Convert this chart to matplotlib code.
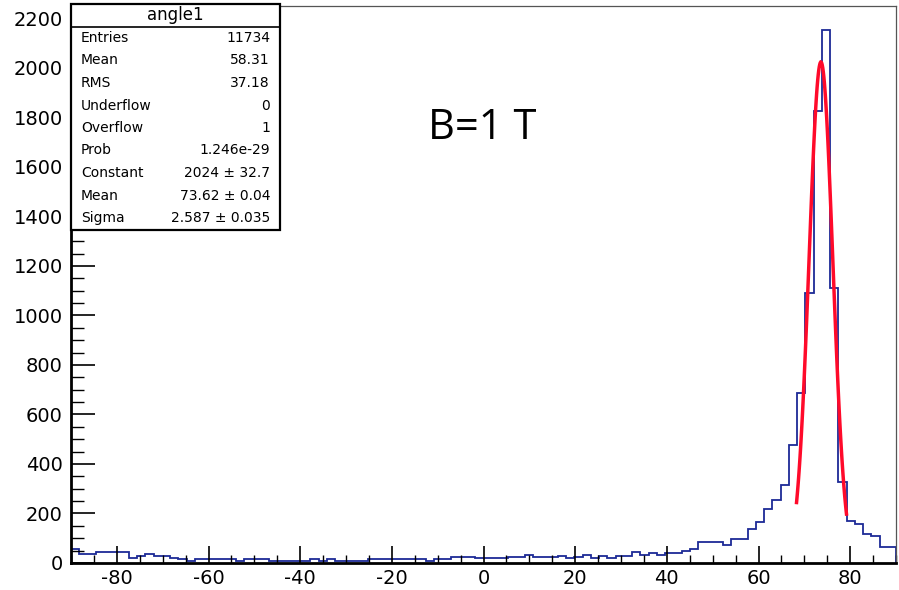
import numpy as np
import matplotlib
matplotlib.use("Agg")
import matplotlib.pyplot as plt
from matplotlib.ticker import MultipleLocator

# histogram "angle1": 100 bins from -90 to 90 deg
x_lo, x_hi, n_bins = -90.0, 90.0, 100
counts = [
    55, 35, 38, 45, 46, 46, 44, 22, 27, 36,
    29, 27, 22, 17, 9, 16, 16, 16, 16, 16,
    9, 16, 16, 16, 9, 9, 9, 9, 9, 16,
    9, 16, 9, 9, 9, 9, 16, 16, 16, 16,
    16, 16, 16, 10, 17, 17, 25, 25, 25, 20,
    20, 20, 20, 23, 23, 31, 24, 24, 24, 30,
    20, 24, 32, 20, 30, 22, 27, 27, 46, 33,
    39, 32, 39, 39, 50, 57, 86, 86, 86, 73,
    97, 97, 139, 164, 217, 254, 315, 475, 686, 1089,
    1826, 2155, 1109, 328, 171, 157, 116, 110, 66, 66,
]

# gaussian fit result
fit_const, fit_mean, fit_sigma = 2024.0, 73.62, 2.587
fit_range = (68.3, 79.2)

stat_labels = ["Entries", "Mean", "RMS", "Underflow", "Overflow", "Prob",
               "Constant", "Mean", "Sigma"]
stat_values = ["11734", "58.31", "37.18", "0", "1", "1.246e-29",
               "2024 \u00b1 32.7", "73.62 \u00b1 0.04", "2.587 \u00b1 0.035"]
hist_name = "angle1"
note = "B=1 T"

plt.rcParams["font.family"] = ["DejaVu Sans"]
plt.rcParams["axes.unicode_minus"] = False

W, H = 899, 590
fig = plt.figure(figsize=(W / 100, H / 100), dpi=100)
ax_l, ax_r, ax_b, ax_t = 71, 896, 563, 6
ax = fig.add_axes([ax_l / W, 1 - ax_b / H, (ax_r - ax_l) / W, (ax_b - ax_t) / H])

edges = np.linspace(x_lo, x_hi, n_bins + 1)
ax.stairs(counts, edges, color="#1c2a96", linewidth=1.3, baseline=0)

xf = np.linspace(fit_range[0], fit_range[1], 100)
yf = fit_const * np.exp(-0.5 * ((xf - fit_mean) / fit_sigma) ** 2)
ax.plot(xf, yf, color="#ff0a2a", linewidth=2.5, solid_joinstyle="miter")

ax.set_xlim(x_lo, x_hi)
ax.set_ylim(0, 2250)

ax.xaxis.set_major_locator(MultipleLocator(20))
ax.xaxis.set_minor_locator(MultipleLocator(5))
ax.yaxis.set_major_locator(MultipleLocator(200))
ax.yaxis.set_minor_locator(MultipleLocator(50))

ax.tick_params(axis="x", which="major", direction="in", length=12, width=1.2,
               labelsize=14, pad=4, top=False)
ax.tick_params(axis="x", which="minor", direction="in", length=6, width=1.0, top=False)
ax.tick_params(axis="y", which="major", direction="in", length=17, width=1.2,
               labelsize=14, pad=6, right=False)
ax.tick_params(axis="y", which="minor", direction="in", length=9, width=1.0, right=False)

for side in ("bottom", "left"):
    ax.spines[side].set_linewidth(2.0)
for side in ("top", "right"):
    ax.spines[side].set_linewidth(0.9)
    ax.spines[side].set_color("#555555")

# statistics box
bx0, bx1, by0, by1, by_title = 71, 280, 4, 230, 27
def fx(px):
    return px / W
def fy(py):
    return 1 - py / H

box = plt.Rectangle((fx(bx0), fy(by1)), fx(bx1) - fx(bx0), fy(by0) - fy(by1),
                    transform=fig.transFigure, facecolor="white", edgecolor="black",
                    linewidth=1.6, zorder=5)
fig.add_artist(box)
fig.add_artist(plt.Line2D([fx(bx0), fx(bx1)], [fy(by_title), fy(by_title)],
                          transform=fig.transFigure, color="black", linewidth=1.2, zorder=6))
fig.text(fx((bx0 + bx1) / 2), fy(15.5), hist_name, ha="center", va="center",
         fontsize=12, zorder=7)
row_y0, row_dy = 38, 22.5
for i, (lab, val) in enumerate(zip(stat_labels, stat_values)):
    yy = fy(row_y0 + i * row_dy)
    fig.text(fx(81), yy, lab, ha="left", va="center", fontsize=10, zorder=7)
    fig.text(fx(270), yy, val, ha="right", va="center", fontsize=10, zorder=7)

fig.text(fx(482), fy(128), note, ha="center", va="center", fontsize=30,
         family=["Open Sans", "DejaVu Sans"])

fig.savefig("out.png", dpi=100)
